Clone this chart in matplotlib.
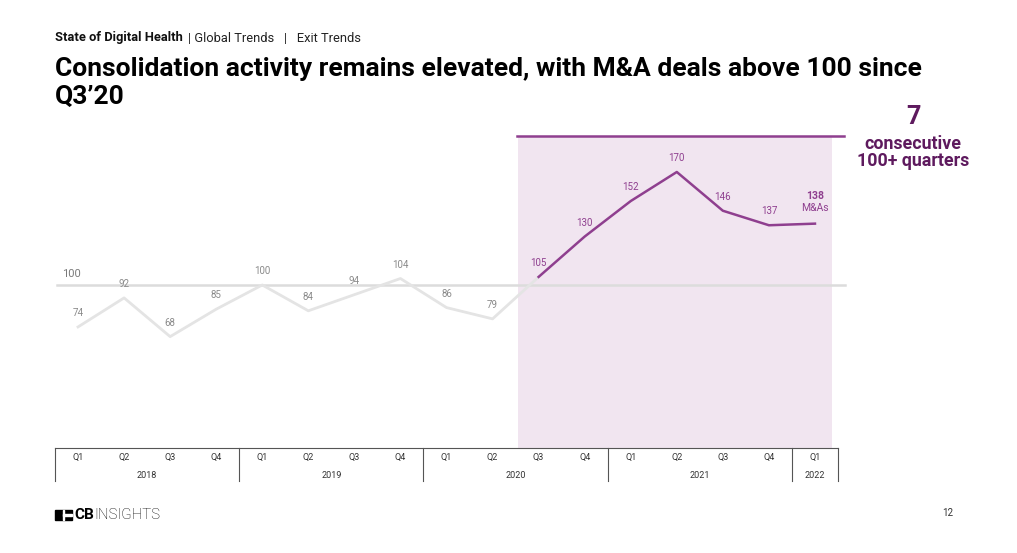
import matplotlib
matplotlib.use("Agg")
from matplotlib import pyplot as plt
from matplotlib.patches import Rectangle

plt.rcParams["font.family"] = ["Roboto", "DejaVu Sans"]

quarters = ["Q1", "Q2", "Q3", "Q4", "Q1", "Q2", "Q3", "Q4", "Q1", "Q2", "Q3", "Q4",
            "Q1", "Q2", "Q3", "Q4", "Q1"]
years = ["2018", "2019", "2020", "2021", "2022"]
year_counts = [4, 4, 4, 4, 1]
deals = [74, 92, 68, 85, 100, 84, 94, 104, 86, 79, 105, 130, 152, 170, 146, 137, 138]
first_100 = 10  # Q3'20

gray = "#e4e4e4"
gray_txt = "#8a8a8a"
purple = "#8f3f8f"
dark_purple = "#5e1a5e"
shade = "#f1e5f0"

W, H = 1017, 553
fig = plt.figure(figsize=(W / 100, H / 100), dpi=100)

def box(x0, y0, x1, y1):
    return [x0 / W, 1 - y1 / H, (x1 - x0) / W, (y1 - y0) / H]

ax = fig.add_axes(box(55, 136, 838, 448))
ax.set_xlim(-0.5, 16.5)
ax.set_ylim(-1, 192.3)
ax.axis("off")

x = list(range(len(deals)))
ax.axvspan(9.55, 16.37, color=shade, zorder=0, lw=0)
ax.plot([9.53, 16.62], [192.3, 192.3], color=purple, lw=1.8, clip_on=False)
ax.plot([-0.46, 16.65], [100, 100], color="#dcdcdc", lw=1.8, clip_on=False, zorder=1)
ax.annotate("100", (-0.15, 100), xytext=(0, 8), textcoords="offset points",
            ha="center", va="center", fontsize=8, color="#7a7a7a")

ax.plot(x[:first_100 + 1], deals[:first_100 + 1], color=gray, lw=2, zorder=2)
ax.plot(x[first_100:], deals[first_100:], color=purple, lw=1.8, zorder=3)

for i, v in enumerate(deals[:-1]):
    ax.annotate(str(v), (i, v), xytext=(0, 10), textcoords="offset points",
                ha="center", va="center", fontsize=7,
                color=purple if i >= first_100 else gray_txt)
ax.annotate(str(deals[-1]), (x[-1], deals[-1]), xytext=(0, 20), textcoords="offset points",
            ha="center", va="center", fontsize=7.5, fontweight="bold", color=purple)
ax.annotate("M&As", (x[-1], deals[-1]), xytext=(0, 11), textcoords="offset points",
            ha="center", va="center", fontsize=7.5, color=purple)

# category axis
cx = fig.add_axes(box(55, 448, 838, 481), sharex=ax)
cx.set_ylim(0, 1)
cx.axis("off")
cx.plot([-0.5, 16.5], [1, 1], color="#555555", lw=0.8, clip_on=False)
for i, q in enumerate(quarters):
    cx.text(i, 0.7, q, ha="center", va="center", fontsize=6.5, color="#333333")
start = -0.5
cx.plot([start, start], [0, 1], color="#555555", lw=0.8, clip_on=False)
for yr, n in zip(years, year_counts):
    cx.text(start + n / 2, 0.16, yr, ha="center", va="center", fontsize=6.5, color="#333333")
    start += n
    cx.plot([start, start], [0, 1], color="#555555", lw=0.8, clip_on=False)

# header
fig.text(55 / W, 1 - 38 / H, "State of Digital Health", fontsize=9.3, fontweight="bold",
         va="center", ha="left", color="#111111")
fig.text(188.5 / W, 1 - 38 / H, "| Global Trends   |   Exit Trends", fontsize=9.3,
         va="center", ha="left", color="#222222")
fig.text(55 / W, 1 - 69 / H,
         "Consolidation activity remains elevated, with M&A deals above 100 since",
         fontsize=19, fontweight="bold", va="center", ha="left", color="#000000")
fig.text(55 / W, 1 - 97 / H, "Q3\u201920",
         fontsize=19, fontweight="bold", va="center", ha="left", color="#000000")

fig.text(913 / W, 1 - 117 / H, "7", fontsize=18, fontweight="bold", ha="center",
         va="center", color=dark_purple)
fig.text(913 / W, 1 - 152.5 / H, "consecutive\n100+ quarters", fontsize=12.8,
         fontweight="bold", ha="center", va="center", color=dark_purple, linespacing=0.95)

# footer logo
fig.patches.append(Rectangle((55 / W, 1 - 520 / H), 17 / W, 10 / H, color="black",
                             transform=fig.transFigure))
fig.patches.append(Rectangle((63 / W, 1 - 520 / H), 1.3 / W, 10 / H, color="white",
                             transform=fig.transFigure))
fig.patches.append(Rectangle((63 / W, 1 - 515.6 / H), 9 / W, 1.3 / H, color="white",
                             transform=fig.transFigure))
fig.text(74 / W, 1 - 515 / H, "CB", fontsize=11, fontweight="bold", va="center",
         ha="left", color="black")
fig.text(94 / W, 1 - 515 / H, "INSIGHTS", fontsize=10.8, fontweight="light", va="center",
         ha="left", color="black")
fig.text(948 / W, 1 - 513 / H, "12", fontsize=7, va="center", ha="center", color="#333333")

fig.savefig("out.png", dpi=100)
